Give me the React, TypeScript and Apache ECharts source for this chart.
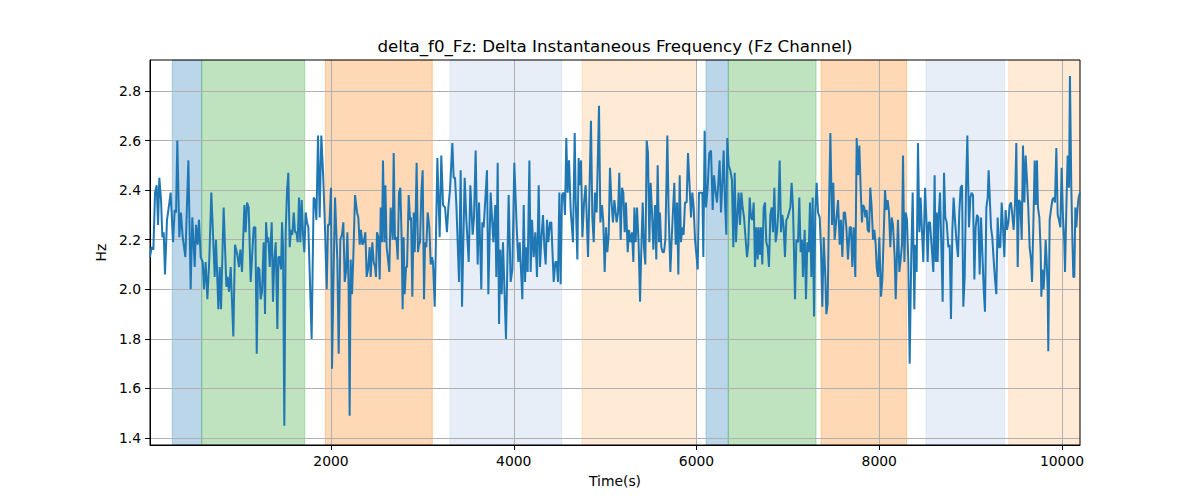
import React, { useEffect, useRef } from "react";
import * as echarts from "echarts";

const TITLE = "delta_f0_Fz: Delta Instantaneous Frequency (Fz Channel)";
const X_NAME = "Time(s)";
const Y_NAME = "Hz";
const X_TICKS = [2000, 4000, 6000, 8000, 10000];
const Y_TICKS = [1.4, 1.6, 1.8, 2.0, 2.2, 2.4, 2.6, 2.8];
const X_MIN = 19;
const X_MAX = 10197;
const Y_MIN = 1.372;
const Y_MAX = 2.925;

// shaded intervals (time), kinds: b=blue, g=green, o=orange, lb=light blue, lo=light orange
const BAND_STARTS = [263, 585, 1938, 3302, 4747, 6104, 6348, 7363, 8512, 9417];
const BAND_ENDS = [585, 1712, 3109, 4525, 6002, 6348, 7308, 8300, 9373, 10197];
const BAND_KINDS = ["b", "g", "o", "lb", "lo", "b", "g", "o", "lb", "lo"];
const BAND_COLORS: Record<string, string> = {
  b: "rgba(31,119,180,0.3)",
  g: "rgba(44,160,44,0.3)",
  o: "rgba(255,127,14,0.3)",
  lb: "rgba(174,199,232,0.3)",
  lo: "rgba(255,187,120,0.3)",
};

// [time, Hz] samples
const SEG1 = [[19,2.13],[37,2.17],[56,2.16],[74,2.39],[92,2.42],[107,2.26],[121,2.45],[140,2.36],[154,2.21],[169,2.23],[183,2.06],[205,2.28],[224,2.33],[245,2.39],[271,2.19],[289,2.32],[304,2.31],[318,2.60],[340,2.21],[358,2.31],[377,2.21],[406,2.13],[439,2.52],[464,2.00],[482,2.29],[508,2.09],[523,2.26],[541,2.18],[555,2.28],[574,2.13],[596,2.11],[610,2.00],[628,2.11],[647,1.96],[668,2.12],[690,2.39],[712,2.19],[727,2.05],[741,2.20],[767,1.92],[782,2.09],[796,1.92],[825,2.33],[855,2.01],[869,2.05],[884,1.99],[902,2.09],[931,1.81],[949,2.18],[975,2.14],[993,2.09],[1008,2.16],[1026,2.07],[1052,2.34]];
const SEG2 = [[1066,2.23],[1081,2.35],[1099,2.33],[1121,2.03],[1154,2.25],[1172,2.25],[1187,1.74],[1201,2.09],[1216,2.08],[1230,1.96],[1245,1.99],[1263,2.19],[1278,1.90],[1289,2.27],[1303,2.19],[1314,2.21],[1329,2.09],[1351,2.27],[1365,1.95],[1380,2.12],[1395,2.19],[1413,1.84],[1424,2.13],[1438,2.13],[1453,2.08],[1464,2.27],[1475,2.17],[1489,1.45],[1504,2.23],[1519,2.40],[1533,2.47],[1548,2.17],[1562,2.24],[1577,2.22],[1592,2.31],[1606,2.23],[1621,2.23],[1635,2.19],[1650,2.37],[1664,2.19],[1679,2.36],[1694,2.22],[1708,2.15],[1723,2.31],[1737,2.27],[1752,2.25],[1788,1.80],[1810,2.37],[1825,2.36],[1840,2.28],[1858,2.62],[1876,2.29],[1894,2.62],[1913,2.47],[1934,2.25],[1953,2.00],[1967,2.26],[1982,2.26],[2000,2.41],[2011,1.68],[2029,2.09],[2044,2.37]];
const SEG3 = [[2069,2.12],[2084,1.74],[2102,2.20],[2120,2.22],[2135,2.27],[2150,2.03],[2164,2.07],[2179,2.23],[2193,2.00],[2204,1.49],[2215,2.12],[2230,1.98],[2244,2.13],[2263,2.38],[2285,2.31],[2299,2.29],[2314,2.18],[2328,2.24],[2343,2.18],[2357,2.19],[2376,2.23],[2390,2.05],[2405,2.08],[2423,2.17],[2434,2.05],[2452,2.19],[2467,2.11],[2482,2.09],[2492,2.05],[2503,2.23],[2518,2.21],[2533,2.04],[2544,2.33],[2558,2.19],[2569,2.52],[2584,2.19],[2595,2.42],[2609,2.17],[2624,2.12],[2638,2.07],[2653,2.33],[2675,2.20],[2686,2.55],[2700,2.20],[2715,2.21],[2730,2.12],[2744,2.39],[2759,2.41],[2773,2.20],[2784,1.92],[2795,2.21],[2806,1.98],[2821,2.09],[2832,2.09],[2850,2.38],[2865,2.28],[2876,2.29],[2890,1.97],[2905,2.31],[2916,2.15],[2927,2.31],[2937,2.51],[2952,2.15],[2963,2.18],[2974,2.19],[2989,2.39],[3003,2.48],[3018,1.96],[3029,2.19],[3043,2.17],[3058,2.31],[3076,2.25],[3091,2.10]];
const SEG4 = [[3105,2.13],[3116,2.11],[3135,1.93],[3164,2.53],[3189,2.21],[3207,2.54],[3226,2.34],[3248,2.33],[3269,2.23],[3284,2.33],[3302,2.40],[3328,2.59],[3342,2.45],[3357,2.45],[3372,2.34],[3401,2.03],[3419,2.48],[3434,1.93],[3448,2.19],[3463,2.45],[3481,2.28],[3507,2.11],[3525,2.42],[3550,2.22],[3565,2.29],[3583,2.56],[3605,2.10],[3620,2.35],[3645,2.00],[3656,2.27],[3671,2.25],[3707,2.48],[3722,1.98],[3747,2.39],[3777,2.19],[3798,2.34],[3809,2.05],[3824,2.51],[3839,1.86],[3853,2.16],[3868,1.98],[3882,2.19],[3915,1.80],[3944,2.38],[3966,2.03],[3985,2.08],[4006,2.51],[4032,2.25],[4050,2.11],[4065,2.19],[4094,1.96],[4109,2.34]];
const SEG5 = [[4123,2.03],[4138,2.17],[4152,2.07],[4171,2.52],[4185,2.07],[4200,2.28],[4218,2.13],[4236,2.23],[4254,2.05],[4273,2.42],[4287,2.09],[4302,2.20],[4320,2.30],[4335,2.17],[4349,2.10],[4364,2.28],[4378,2.19],[4397,2.27],[4411,2.27],[4437,2.03],[4455,2.11],[4470,2.11],[4484,2.03],[4499,2.39],[4513,2.02],[4528,2.38],[4546,2.39],[4561,2.30],[4575,2.61],[4590,2.39],[4605,2.52],[4623,2.32],[4648,2.19],[4667,2.63],[4678,2.36],[4696,2.12],[4710,2.53],[4721,2.42],[4736,2.52],[4751,2.21],[4769,2.35],[4787,2.42],[4813,2.13],[4845,2.68],[4860,2.29],[4875,2.19],[4889,2.39],[4907,2.31],[4933,2.74],[4948,2.27],[4966,2.34],[4980,2.27],[4995,2.07],[5010,2.25],[5024,2.15],[5039,2.22],[5053,2.49],[5068,2.36],[5086,2.27],[5101,2.36],[5115,2.31]];
const SEG6 = [[5126,2.27],[5141,2.31],[5155,2.47],[5170,2.20],[5185,2.41],[5199,2.39],[5214,2.23],[5228,2.35],[5247,2.15],[5261,2.24],[5276,2.19],[5294,2.23],[5309,2.11],[5320,2.33],[5334,2.19],[5349,2.33],[5367,2.18],[5382,1.95],[5393,2.12],[5411,2.35],[5425,2.17],[5440,2.10],[5455,2.60],[5469,2.55],[5484,2.19],[5498,2.43],[5513,2.31],[5528,2.16],[5546,2.34],[5560,2.12],[5575,2.50],[5590,2.19],[5600,2.31],[5615,2.17],[5630,2.15],[5644,2.15],[5659,2.20],[5681,2.62],[5695,2.31],[5714,2.07],[5728,2.20],[5743,2.32],[5757,2.43],[5772,2.18],[5787,2.35],[5801,2.06],[5816,2.46],[5830,2.19],[5845,2.25],[5859,2.22],[5874,2.35],[5892,2.35],[5907,2.55],[5925,2.41],[5940,2.29],[5954,2.39],[5969,2.33],[5984,2.20],[6013,2.08],[6027,2.39],[6049,2.39],[6064,2.39],[6075,2.13],[6089,2.64],[6104,2.33],[6122,2.41]];
const SEG7 = [[6140,2.55],[6159,2.56],[6177,2.32],[6191,2.46],[6210,2.39],[6224,2.35],[6239,2.43],[6253,2.52],[6268,2.31],[6283,2.43],[6297,2.56],[6312,2.35],[6326,2.22],[6337,2.61],[6352,2.50],[6370,2.48],[6388,2.44],[6403,2.17],[6418,2.47],[6432,2.19],[6447,2.30],[6461,2.39],[6476,2.26],[6491,2.39],[6505,2.33],[6520,2.29],[6538,2.20],[6553,2.13],[6567,2.18],[6582,2.37],[6596,2.29],[6611,2.28],[6626,2.35],[6640,2.09],[6655,2.25],[6669,2.12],[6680,2.25],[6695,2.14],[6706,2.25],[6720,2.10],[6735,2.33],[6750,2.35],[6764,2.19],[6779,2.17],[6793,2.09],[6808,2.30],[6823,2.33],[6837,2.23],[6852,2.41],[6866,2.19],[6881,2.23],[6896,2.32],[6910,2.52],[6925,2.23],[6939,2.30],[6954,2.25],[6968,2.13],[6983,2.28],[6998,2.29],[7012,2.31],[7027,2.33],[7041,2.43],[7056,2.33],[7067,2.15],[7078,1.96],[7093,2.20],[7111,2.19],[7125,2.37],[7140,2.15],[7155,2.20],[7165,2.05]];
const SEG8 = [[7184,2.24],[7198,1.96],[7213,2.19],[7228,2.15],[7242,2.35],[7257,2.05],[7271,2.37],[7286,1.89],[7300,2.31],[7315,2.43],[7330,2.31],[7348,2.29],[7362,2.17],[7377,1.93],[7392,2.21],[7410,2.05],[7421,1.90],[7435,1.94],[7450,2.32],[7465,2.63],[7483,2.26],[7497,2.43],[7512,2.20],[7530,2.28],[7549,2.36],[7567,2.18],[7581,2.28],[7596,2.13],[7611,2.31],[7625,2.31],[7640,2.25],[7658,2.12],[7676,2.25],[7691,2.25],[7705,2.09],[7720,2.25],[7738,2.05],[7753,2.61],[7767,2.46],[7782,2.58],[7797,2.40],[7811,2.27],[7822,2.34],[7837,2.33],[7848,2.29],[7862,2.32],[7873,2.24],[7888,2.23],[7902,2.41],[7917,2.33],[7932,2.20],[7946,2.24],[7961,2.18],[7972,2.09],[7986,2.05],[8001,2.21],[8019,1.97],[8034,2.04],[8048,2.21],[8063,2.40],[8078,2.32],[8092,2.36],[8107,2.31],[8121,2.17],[8136,2.29],[8150,2.26],[8169,2.13],[8180,1.96]];
const SEG9 = [[8205,2.28],[8220,2.07],[8234,2.12],[8249,2.18],[8260,2.54],[8275,2.11],[8289,2.31],[8304,2.28],[8318,2.11],[8333,1.70],[8351,2.15],[8366,2.39],[8384,1.92],[8395,2.18],[8409,2.07],[8424,2.59],[8439,2.23],[8453,2.37],[8468,2.23],[8482,2.11],[8501,2.41],[8515,2.29],[8530,2.11],[8541,2.27],[8555,2.27],[8574,2.17],[8592,2.07],[8606,2.46],[8617,2.11],[8628,2.31],[8639,2.11],[8650,2.29],[8665,2.39],[8679,2.18],[8694,1.95],[8709,2.47],[8723,2.29],[8738,2.27],[8756,2.17],[8771,2.18],[8785,1.88],[8800,2.24],[8814,2.37],[8829,2.28],[8844,2.20],[8862,2.13],[8876,2.31],[8891,2.41],[8906,2.42],[8920,1.93],[8935,2.05],[8949,2.39],[8964,2.62],[8982,2.25],[8997,2.37],[9011,2.39],[9026,2.38],[9041,2.04],[9055,2.25],[9070,2.30],[9084,2.29],[9099,2.06],[9114,2.29],[9128,2.15],[9143,2.00],[9157,1.91],[9172,2.33],[9187,2.37],[9197,2.48]];
const SEG10 = [[9223,2.25],[9237,2.21],[9252,2.12],[9267,2.04],[9281,1.98],[9296,2.29],[9310,2.17],[9325,2.17],[9340,2.35],[9354,2.25],[9369,2.13],[9383,2.32],[9398,2.24],[9413,2.27],[9427,2.34],[9442,2.35],[9456,2.30],[9471,2.24],[9486,2.35],[9500,2.59],[9515,2.09],[9529,2.36],[9544,2.35],[9559,2.20],[9573,2.58],[9588,2.35],[9602,2.54],[9617,2.44],[9631,2.33],[9646,2.17],[9661,2.12],[9672,2.03],[9686,2.25],[9701,2.52],[9712,2.34],[9726,2.52],[9737,2.33],[9752,2.29],[9766,2.16],[9774,1.97],[9785,2.08],[9799,2.00],[9810,2.08],[9821,2.20],[9832,2.12],[9843,2.00],[9850,1.75],[9865,2.28],[9879,2.32],[9894,2.36],[9909,2.37],[9923,2.35],[9938,2.57],[9953,2.30],[9967,2.28],[9982,2.25],[9996,2.49],[10011,2.29],[10025,2.19],[10033,2.07],[10047,2.32],[10062,2.54],[10077,2.41],[10087,2.86],[10102,2.41],[10113,2.21],[10124,2.05],[10135,2.05],[10146,2.33],[10157,2.25],[10171,2.33],[10182,2.37],[10197,2.39]];

const SAMPLES = [...SEG1, ...SEG2, ...SEG3, ...SEG4, ...SEG5, ...SEG6, ...SEG7, ...SEG8, ...SEG9, ...SEG10];

const FONT = "DejaVu Sans";

export default function App() {
  const ref = useRef<HTMLDivElement>(null);
  useEffect(() => {
    if (!ref.current) return;
    const chart = echarts.init(ref.current, null, { renderer: "svg" });
    const bands = BAND_STARTS.map((s, i) => [
      {
        xAxis: s,
        itemStyle: {
          color: BAND_COLORS[BAND_KINDS[i]],
          borderColor: BAND_COLORS[BAND_KINDS[i]],
          borderWidth: 1,
        },
      },
      { xAxis: BAND_ENDS[i] },
    ]);
    chart.setOption({
      animation: false,
      backgroundColor: "#ffffff",
      textStyle: { fontFamily: FONT },
      graphic: [
        {
          type: "text",
          x: 615,
          y: 46,
          style: {
            text: TITLE,
            fontFamily: FONT,
            fontSize: 16.7,
            fill: "#000",
            textAlign: "center",
            textVerticalAlign: "middle",
          },
        },
      ],
      grid: {
        left: 150,
        right: 120,
        top: 60,
        bottom: 55,
        show: true,
        borderColor: "#000",
        borderWidth: 1,
        backgroundColor: "transparent",
        z: 3,
      },
      xAxis: {
        type: "value",
        z: 2,
        min: X_MIN,
        max: X_MAX,
        name: X_NAME,
        nameLocation: "middle",
        nameGap: 29,
        nameTextStyle: { fontFamily: FONT, fontSize: 13.9, color: "#000" },
        axisLine: { show: true, onZero: false, lineStyle: { color: "#000", width: 1 } },
        axisTick: { show: true, length: 5, lineStyle: { color: "#000" }, customValues: X_TICKS },
        axisLabel: {
          customValues: X_TICKS,
          margin: 9,
          fontFamily: FONT,
          fontSize: 13.9,
          color: "#000",
          formatter: (v: number) => String(v),
        },
        splitLine: { show: true, lineStyle: { color: "#b0b0b0", width: 1 } },
      },
      yAxis: {
        type: "value",
        z: 2,
        min: Y_MIN,
        max: Y_MAX,
        name: Y_NAME,
        nameLocation: "middle",
        nameGap: 37,
        nameTextStyle: { fontFamily: FONT, fontSize: 13.9, color: "#000" },
        axisLine: { show: true, onZero: false, lineStyle: { color: "#000", width: 1 } },
        axisTick: { show: true, length: 5, lineStyle: { color: "#000" }, customValues: Y_TICKS },
        axisLabel: {
          customValues: Y_TICKS,
          margin: 9,
          fontFamily: FONT,
          fontSize: 13.9,
          color: "#000",
          formatter: (v: number) => v.toFixed(1),
        },
        splitLine: { show: true, lineStyle: { color: "#b0b0b0", width: 1 } },
      },
      series: [
        {
          type: "line",
          data: SAMPLES,
          showSymbol: false,
          symbol: "none",
          lineStyle: { color: "#1f77b4", width: 2 },
          itemStyle: { color: "#1f77b4" },
          silent: true,
          z: 3,
          markArea: { silent: true, z: 1, data: bands },
        },
      ],
    });
    return () => chart.dispose();
  }, []);
  return (
    <div
      ref={ref}
      style={{ position: "absolute", left: 0, top: 0, width: 1200, height: 500 }}
    />
  );
}
